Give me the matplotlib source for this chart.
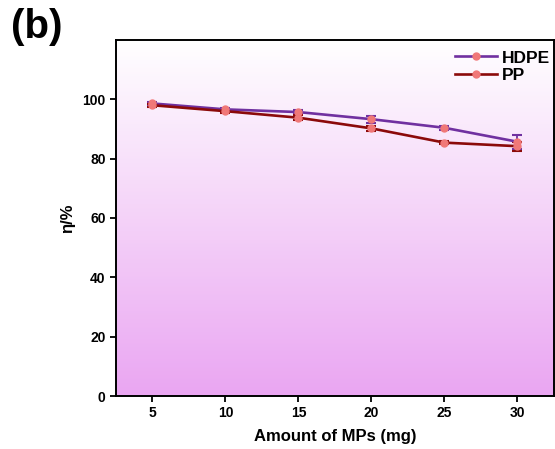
import matplotlib
matplotlib.use("Agg")
import matplotlib.pyplot as plt
import numpy as np
from matplotlib.colors import LinearSegmentedColormap

plt.rcParams['font.family'] = ['Liberation Sans', 'DejaVu Sans']
plt.rcParams['font.weight'] = 'bold'

amount = [5, 10, 15, 20, 25, 30]
hdpe = [98.6, 96.6, 95.7, 93.3, 90.4, 85.7]
hdpe_err = [0.5, 0.5, 0.8, 1.2, 0.6, 2.4]
pp = [98.0, 96.0, 93.8, 90.2, 85.4, 84.2]
pp_err = [0.5, 0.5, 0.8, 0.9, 0.5, 1.5]
xticks = [5, 10, 15, 20, 25, 30]
yticks = [0, 20, 40, 60, 80, 100]

fig = plt.figure(figsize=(5.55, 4.49), dpi=100)
ax = fig.add_axes([0.209, 0.118, 0.789, 0.793])

cmap = LinearSegmentedColormap.from_list('bg', ['#ffffff', '#eaa6f2'])
grad = np.linspace(1, 0, 256).reshape(-1, 1)
ax.imshow(grad, cmap=cmap, aspect='auto', extent=[2.5, 32.5, 0, 120],
          origin='lower', zorder=0, vmin=0, vmax=1)

ax.errorbar(amount, hdpe, yerr=hdpe_err, color='#7030a0', lw=1.9, marker='o',
            ms=5, mfc='#f07878', mec='#f07878', capsize=3.5, capthick=1.5,
            elinewidth=1.3, label='HDPE', zorder=3)
ax.errorbar(amount, pp, yerr=pp_err, color='#8b0a0a', lw=1.9, marker='o',
            ms=5, mfc='#f07878', mec='#f07878', capsize=3.5, capthick=1.5,
            elinewidth=1.3, label='PP', zorder=3)

ax.set_xlim(2.5, 32.5)
ax.set_ylim(0, 120)
ax.set_xticks(xticks)
ax.set_yticks(yticks)
ax.tick_params(direction='out', length=4, width=1.3, labelsize=10, top=False, right=False)
for s in ax.spines.values():
    s.set_linewidth(1.4)
ax.set_xlabel('Amount of MPs (mg)', fontsize=12, fontweight='bold', labelpad=6)
ax.set_ylabel('η/%', fontsize=12, fontweight='bold', labelpad=5)

handles, labels = ax.get_legend_handles_labels()
handles = [h[0] for h in handles]
ax.legend(handles, labels, loc='upper right', frameon=False, fontsize=12.5,
          handlelength=2.4, handletextpad=0.3, borderaxespad=0.2,
          labelspacing=0.15, bbox_to_anchor=(1.015, 1.0))

fig.text(0.02, 0.982, '(b)', fontsize=29, fontweight='bold', va='top', ha='left')

fig.savefig('out.png', dpi=100)
